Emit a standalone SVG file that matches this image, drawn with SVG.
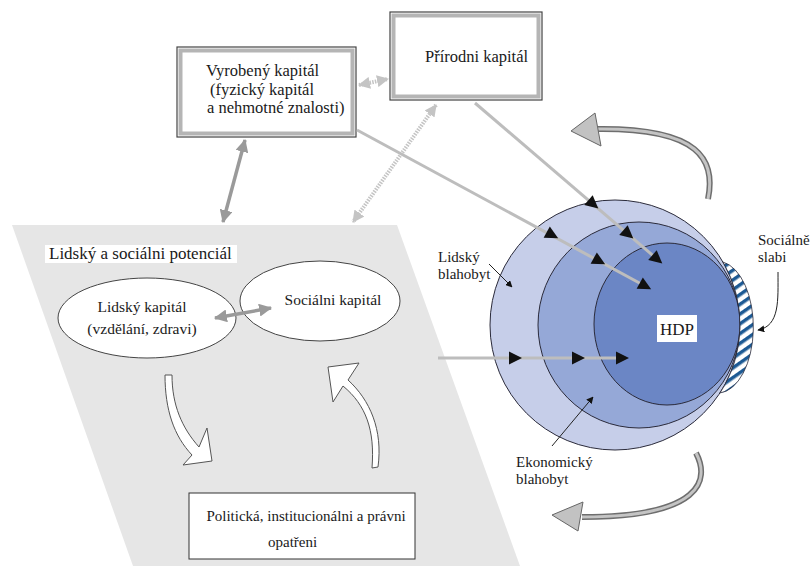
<svg xmlns="http://www.w3.org/2000/svg" width="811" height="566" viewBox="0 0 811 566" font-family="'Liberation Serif', 'DejaVu Serif', serif">
<style>
text{font-family:"Liberation Serif","DejaVu Serif",serif;fill:#1a1a1a}
.t15{font-size:15px}
.t16{font-size:16.5px}
.ln{fill:none;stroke:#bdbdbd;stroke-width:3}
.ga{fill:none;stroke:#9a9a9a;stroke-width:3.5}
.dot{fill:none;stroke:#c4c4c4;stroke-width:4;stroke-dasharray:1.5 1.2}
.thin{fill:none;stroke:#222;stroke-width:1}
.shaftO{fill:none;stroke:#6e6e6e;stroke-width:6}
.shaftI{fill:none;stroke:#c4c4c4;stroke-width:3}
.head{fill:#c2c2c2;stroke:#666;stroke-width:1}
.ell{fill:#fff;stroke:#444;stroke-width:1}
</style>
<defs>
<marker id="ag" viewBox="0 0 12 12" refX="11" refY="6" markerWidth="13" markerHeight="13" markerUnits="userSpaceOnUse" orient="auto-start-reverse"><path d="M0,0 L12,6 L0,12 z" fill="#9a9a9a"/></marker>
<marker id="ad" viewBox="0 0 12 12" refX="11" refY="6" markerWidth="12" markerHeight="12" markerUnits="userSpaceOnUse" orient="auto-start-reverse"><path d="M0,0 L12,6 L0,12 z" fill="#c4c4c4"/></marker>
<marker id="ab" viewBox="0 0 10 10" refX="9" refY="5" markerWidth="7" markerHeight="7" markerUnits="userSpaceOnUse" orient="auto"><path d="M0,0 L10,5 L0,10 z" fill="#111"/></marker>
<path id="tri" d="M-6,-6.5 L7,0 L-6,6.5 Z" fill="#111"/>
<pattern id="hatch" patternUnits="userSpaceOnUse" width="8" height="8" patternTransform="rotate(-35)">
<rect width="8" height="8" fill="#fff"/><rect width="8" height="3.5" fill="#1d5a94"/>
</pattern>
</defs>

<g id="potential-area">
<polygon points="12,225 397,225 520,566 133,566" fill="#e6e6e6"/>
<rect x="45" y="245" width="192" height="18" fill="#fff"/>
<text x="49" y="258.5" style="font-size:17px">Lidský a sociálni potenciál</text>
</g>

<g id="welfare-circles">
<circle cx="615" cy="325" r="125" fill="#c6cee9" stroke="#2a2a3a" stroke-width="1"/>
<ellipse cx="639" cy="325" rx="101" ry="103" fill="#95a8d7" stroke="#2a2a3a" stroke-width="1"/>
<ellipse cx="667" cy="324" rx="73" ry="81" fill="#6b86c5" stroke="#2a2a3a" stroke-width="1"/>
<path d="M723,262 A36 66 0 0 1 720,393 A125 125 0 0 0 723,262 Z" fill="url(#hatch)" stroke="#2a2a3a" stroke-width="0.8"/>
</g>

<g id="vyrobeny-kapital">
<rect x="177" y="47" width="179" height="90" fill="#fff" stroke="#444" stroke-width="1.2"/>
<rect x="180.5" y="50.5" width="172" height="83" fill="none" stroke="#b5b5b5" stroke-width="4"/>
<text class="t16" x="206" y="76">Vyrobený kapitál</text>
<text class="t16" x="210" y="95">(fyzický kapitál</text>
<text class="t16" x="207" y="113">a nehmotné znalosti)</text>
</g>

<g id="prirodni-kapital">
<rect x="390" y="12" width="152" height="88" fill="#fff" stroke="#444" stroke-width="1.2"/>
<rect x="393.5" y="15.5" width="145" height="81" fill="none" stroke="#b5b5b5" stroke-width="4"/>
<text class="t16" x="425" y="62">Přírodni kapitál</text>
</g>

<g id="lidsky-kapital">
<ellipse class="ell" cx="147" cy="318" rx="89" ry="40"/>
<text x="142" y="312" text-anchor="middle" style="font-size:15.5px">Lidský kapitál</text>
<text x="142" y="334" text-anchor="middle" style="font-size:15.5px">(vzdělání, zdravi)</text>
</g>

<g id="socialni-kapital">
<ellipse class="ell" cx="320" cy="301" rx="80" ry="40"/>
<text x="333" y="305" text-anchor="middle" style="font-size:15.5px">Sociálni kapitál</text>
</g>

<g id="politicka-opatreni">
<rect x="189" y="493" width="226" height="66" fill="#fff" stroke="#333" stroke-width="1"/>
<text x="306" y="521" text-anchor="middle" style="font-size:15px">Politická, institucionálni a právni</text>
<text x="268" y="547" style="font-size:15px">opatřeni</text>
</g>

<g id="connectors">
<line class="ga" x1="245" y1="140" x2="223" y2="222" marker-start="url(#ag)" marker-end="url(#ag)"/>
<line class="dot" x1="359" y1="85" x2="388" y2="79" marker-start="url(#ad)" marker-end="url(#ad)"/>
<line class="dot" x1="436" y1="105" x2="353" y2="222" marker-start="url(#ad)" marker-end="url(#ad)"/>
<line class="ga" x1="215" y1="318" x2="271" y2="308" marker-start="url(#ag)" marker-end="url(#ag)"/>

<line class="ln" x1="357" y1="130" x2="645" y2="286"/>
<line class="ln" x1="475" y1="103" x2="657" y2="259"/>
<line class="ln" x1="438" y1="358" x2="622" y2="358"/>
<use href="#tri" transform="translate(552,235) rotate(28.4)"/>
<use href="#tri" transform="translate(599,261) rotate(28.4)"/>
<use href="#tri" transform="translate(645,286) rotate(28.4)"/>
<use href="#tri" transform="translate(593,204) rotate(40.6)"/>
<use href="#tri" transform="translate(628,234) rotate(40.6)"/>
<use href="#tri" transform="translate(657,259) rotate(40.6)"/>
<use href="#tri" transform="translate(515,358)"/>
<use href="#tri" transform="translate(578,358)"/>
<use href="#tri" transform="translate(622,358)"/>

<line class="thin" x1="489" y1="264" x2="512" y2="287" marker-end="url(#ab)"/>
<line class="thin" x1="552" y1="446" x2="593" y2="397" marker-end="url(#ab)"/>
<path class="thin" d="M778,272 C778,300 780,326 758,330" marker-end="url(#ab)"/>

<path class="shaftO" d="M708,199 C716,160 700,128 598,129"/>
<path class="shaftI" d="M708,199 C716,160 700,128 598,129"/>
<polygon class="head" points="571,131 595,113 601,146"/>
<path class="shaftO" d="M696,453 C710,480 702,517 582,517"/>
<path class="shaftI" d="M696,453 C710,480 702,517 582,517"/>
<polygon class="head" points="552,515 583,502 578,531"/>

<path d="M165,375 C165,410 174,436 192,455 L183,465 L212,461 L207,428 L199,447 C182,428 172,405 172,375 Z" fill="#fff" stroke="#555" stroke-width="1"/>
<path d="M372,468 C375,430 366,405 343,386 L333,402 L328,367 L359,363 L348,380 C370,400 383,430 378,467 Z" fill="#fff" stroke="#555" stroke-width="1"/>
</g>

<g id="hdp">
<rect x="657" y="315" width="40" height="27" fill="#fff"/>
<text x="677" y="335" text-anchor="middle" style="font-size:17px">HDP</text>
</g>

<g id="lidsky-blahobyt">
<text class="t15" x="438" y="262">Lidský</text>
<text class="t15" x="438" y="279">blahobyt</text>
</g>

<g id="ekonomicky-blahobyt">
<text class="t15" x="516" y="467">Ekonomický</text>
<text class="t15" x="516" y="484">blahobyt</text>
</g>

<g id="socialne-slabi">
<text class="t15" x="758" y="245">Sociálně</text>
<text class="t15" x="758" y="262">slabi</text>
</g>
</svg>
